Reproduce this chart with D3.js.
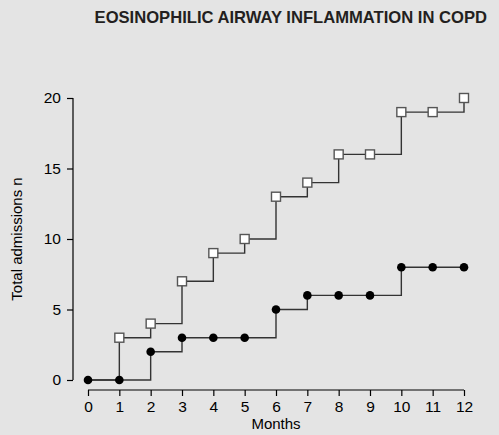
<!DOCTYPE html>
<html><head><meta charset="utf-8">
<script src="https://cdn.jsdelivr.net/npm/d3@7"></script>
<style>
html,body{margin:0;padding:0;background:#e4e4e4;}
svg{display:block;font-family:"Liberation Sans",Arial,sans-serif;}
</style></head>
<body>
<svg id="c" width="499" height="435"></svg>
<script>
const months = [0,1,2,3,4,5,6,7,8,9,10,11,12];
const openSeries = [0,3,4,7,9,10,13,14,16,16,19,19,20];
const filledSeries = [0,0,2,3,3,3,5,6,6,6,8,8,8];
const yTicks = [0,5,10,15,20];
const title = "EOSINOPHILIC AIRWAY INFLAMMATION IN COPD";

const svg = d3.select("#c");
svg.append("rect").attr("width",499).attr("height",435).attr("fill","#e4e4e4");

const x = d3.scaleLinear().domain([0,12]).range([88,464]);
const y = d3.scaleLinear().domain([0,20]).range([380,98]);

svg.append("text").attr("x",487).attr("y",23).attr("text-anchor","end")
  .attr("font-weight","bold").attr("font-size",16.6).attr("fill","#231f20").text(title);

const yAxis = svg.append("g").attr("transform","translate(73,0)")
  .call(d3.axisLeft(y).tickValues(yTicks).tickSize(6).tickPadding(6));
yAxis.select(".domain").attr("d",`M0,${y(20)}V${y(0)}`).attr("stroke","#000").attr("stroke-width",1.2);
yAxis.selectAll(".tick line").attr("stroke","#000").attr("stroke-width",1.2);
yAxis.selectAll("text").attr("font-size",15.5).attr("fill","#000").attr("font-family","Liberation Sans, Arial, sans-serif");

const xAxis = svg.append("g").attr("transform","translate(0,390)")
  .call(d3.axisBottom(x).tickValues(months).tickSize(6).tickPadding(5));
xAxis.select(".domain").attr("d",`M${x(0)},0H${x(12)}`).attr("stroke","#000").attr("stroke-width",1.2);
xAxis.selectAll(".tick line").attr("stroke","#000").attr("stroke-width",1.2);
xAxis.selectAll("text").attr("font-size",15.5).attr("fill","#000").attr("font-family","Liberation Sans, Arial, sans-serif");

svg.append("text").attr("x",276).attr("y",429).attr("text-anchor","middle")
  .attr("font-size",15).attr("fill","#000").text("Months");
svg.append("text").attr("transform","translate(22,239) rotate(-90)").attr("text-anchor","middle")
  .attr("font-size",15).attr("fill","#000").text("Total admissions n");

const line = d3.line().curve(d3.curveStepAfter).x((d,i)=>x(months[i])).y(d=>y(d));
svg.append("path").datum(openSeries).attr("d",line).attr("fill","none").attr("stroke","#333").attr("stroke-width",1.4);
svg.append("path").datum(filledSeries).attr("d",line).attr("fill","none").attr("stroke","#333").attr("stroke-width",1.4);

svg.selectAll(".sq").data(openSeries.map((v,i)=>({m:months[i],v})).filter(d=>d.m>0)).enter().append("rect")
  .attr("x",d=>x(d.m)-4.5).attr("y",d=>y(d.v)-4.5).attr("width",9).attr("height",9)
  .attr("fill","#fff").attr("stroke","#555").attr("stroke-width",1.4);
svg.selectAll(".ci").data(filledSeries).enter().append("circle")
  .attr("cx",(d,i)=>x(months[i])).attr("cy",d=>y(d)).attr("r",4.3).attr("fill","#000");
</script>
</body></html>
